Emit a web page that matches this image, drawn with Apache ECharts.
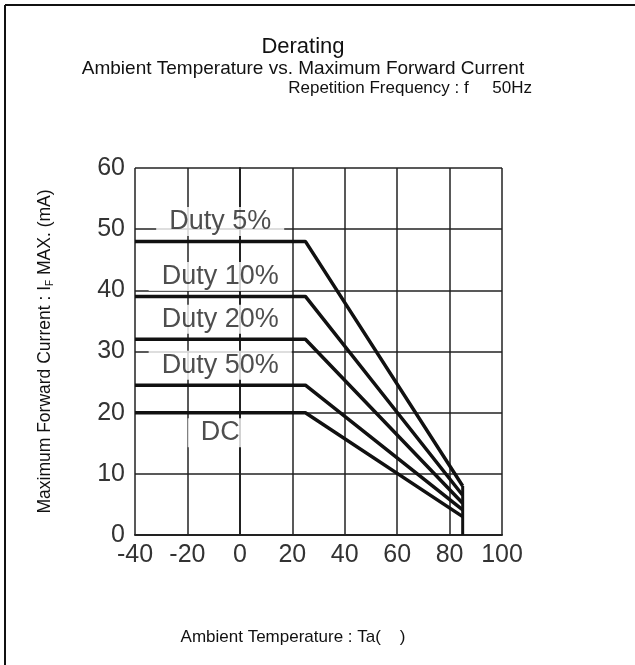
<!DOCTYPE html>
<html>
<head>
<meta charset="utf-8">
<script src="https://cdn.jsdelivr.net/npm/echarts@6/dist/echarts.min.js"></script>
<style>
  html, body { margin: 0; padding: 0; background: #fff; }
  #chart { width: 635px; height: 665px; }
</style>
</head>
<body>
<div id="chart"></div>
<script>
// Derating curves: flat up to the knee, then falling linearly to the cut-off temperature
const curveNames = ['Duty 5%', 'Duty 10%', 'Duty 20%', 'Duty 50%', 'DC'];
const flatCurrent = [48, 39, 32, 24.5, 20];        // mA, below the knee
const endCurrent = [8, 6.5, 5.2, 4.1, 3];           // mA, at the cut-off temperature
const kneeTemp = 25;                                 // degC
const cutoffTemp = 85;                               // degC
const startTemp = -40;                               // degC
const labelTemp = -7.5;                              // degC, where the curve names sit

const xTicks = [-40, -20, 0, 20, 40, 60, 80, 100];
const yTicks = [0, 10, 20, 30, 40, 50, 60];

const FONT = "'Liberation Sans', Arial, Helvetica, sans-serif";
const INK = '#111';

const chart = echarts.init(document.getElementById('chart'), null, { renderer: 'canvas' });

const curveSeries = curveNames.map((name, i) => ({
  name: name,
  type: 'line',
  data: [[startTemp, flatCurrent[i]], [kneeTemp, flatCurrent[i]], [cutoffTemp, endCurrent[i]]],
  symbol: 'none',
  lineStyle: { color: INK, width: 3.5 },
  z: 5,
  silent: true
}));

// vertical drop at the cut-off temperature
const dropSeries = {
  type: 'line',
  data: [[cutoffTemp, Math.max(...endCurrent)], [cutoffTemp, 0]],
  symbol: 'none',
  lineStyle: { color: INK, width: 3 },
  z: 5,
  silent: true
};

// curve names, each on a white box sitting over the grid
const labelSeries = {
  type: 'scatter',
  symbolSize: 1,
  itemStyle: { color: 'rgba(0,0,0,0)' },
  data: curveNames.map((name, i) => ({
    value: [labelTemp, flatCurrent[i]],
    name: name,
    label: {
      offset: [0, name === 'DC' ? 20 : -20]
    }
  })),
  label: {
    show: true,
    position: 'inside',
    formatter: p => p.name,
    fontFamily: FONT,
    fontSize: 27,
    lineHeight: 27,
    color: '#222',
    backgroundColor: '#fff',
    padding: [1, 13]
  },
  z: 4,
  silent: true
};

const plainText = size => ({ fontFamily: FONT, fontSize: size, fontWeight: 'normal', color: '#111' });

chart.setOption({
  animation: false,
  backgroundColor: '#fff',
  title: [
    { text: 'Derating', left: 298, top: 31, textAlign: 'center', textStyle: plainText(22) },
    { text: 'Ambient Temperature vs. Maximum Forward Current', left: 298, top: 54, textAlign: 'center',
      textStyle: plainText(19) },
    { text: 'Repetition Frequency : f     50Hz', left: 527, top: 75, textAlign: 'right',
      textStyle: plainText(17) },
    { text: 'Ambient Temperature : Ta(    )', left: 288, top: 624, textAlign: 'center',
      textStyle: plainText(17) }
  ],
  grid: { left: 135, right: 133, top: 168, bottom: 130, containLabel: false },
  xAxis: {
    type: 'value',
    min: xTicks[0],
    max: xTicks[xTicks.length - 1],
    interval: xTicks[1] - xTicks[0],
    axisLine: { show: true, lineStyle: { color: '#222', width: 2 } },
    axisTick: { show: false },
    axisLabel: { fontFamily: FONT, fontSize: 25, color: '#333', margin: 8 },
    splitLine: { show: true, lineStyle: { color: '#222', width: 1.5 } }
  },
  yAxis: {
    type: 'value',
    min: yTicks[0],
    max: yTicks[yTicks.length - 1],
    interval: yTicks[1] - yTicks[0],
    name: '{m|Maximum Forward Current : I}{s|F}{m| MAX. (mA)}',
    nameLocation: 'middle',
    nameGap: 80,
    nameTextStyle: {
      rich: {
        m: { fontFamily: FONT, fontSize: 17.5, color: '#111' },
        s: { fontFamily: FONT, fontSize: 10, color: '#111', verticalAlign: 'bottom', padding: [9, 0, 0, 0] }
      }
    },
    axisLine: { show: true, lineStyle: { color: '#222', width: 2 } },
    axisTick: { show: false },
    axisLabel: { fontFamily: FONT, fontSize: 25, color: '#333', margin: 10 },
    splitLine: { show: true, lineStyle: { color: '#222', width: 1.5 } }
  },
  series: [...curveSeries, dropSeries, labelSeries],
  graphic: [
    // page frame along the top and left edges
    { type: 'line', shape: { x1: 5, y1: 5, x2: 635, y2: 5 }, style: { stroke: '#111', lineWidth: 2 } },
    { type: 'line', shape: { x1: 5, y1: 5, x2: 5, y2: 665 }, style: { stroke: '#111', lineWidth: 2 } }
  ]
});
</script>
</body>
</html>
